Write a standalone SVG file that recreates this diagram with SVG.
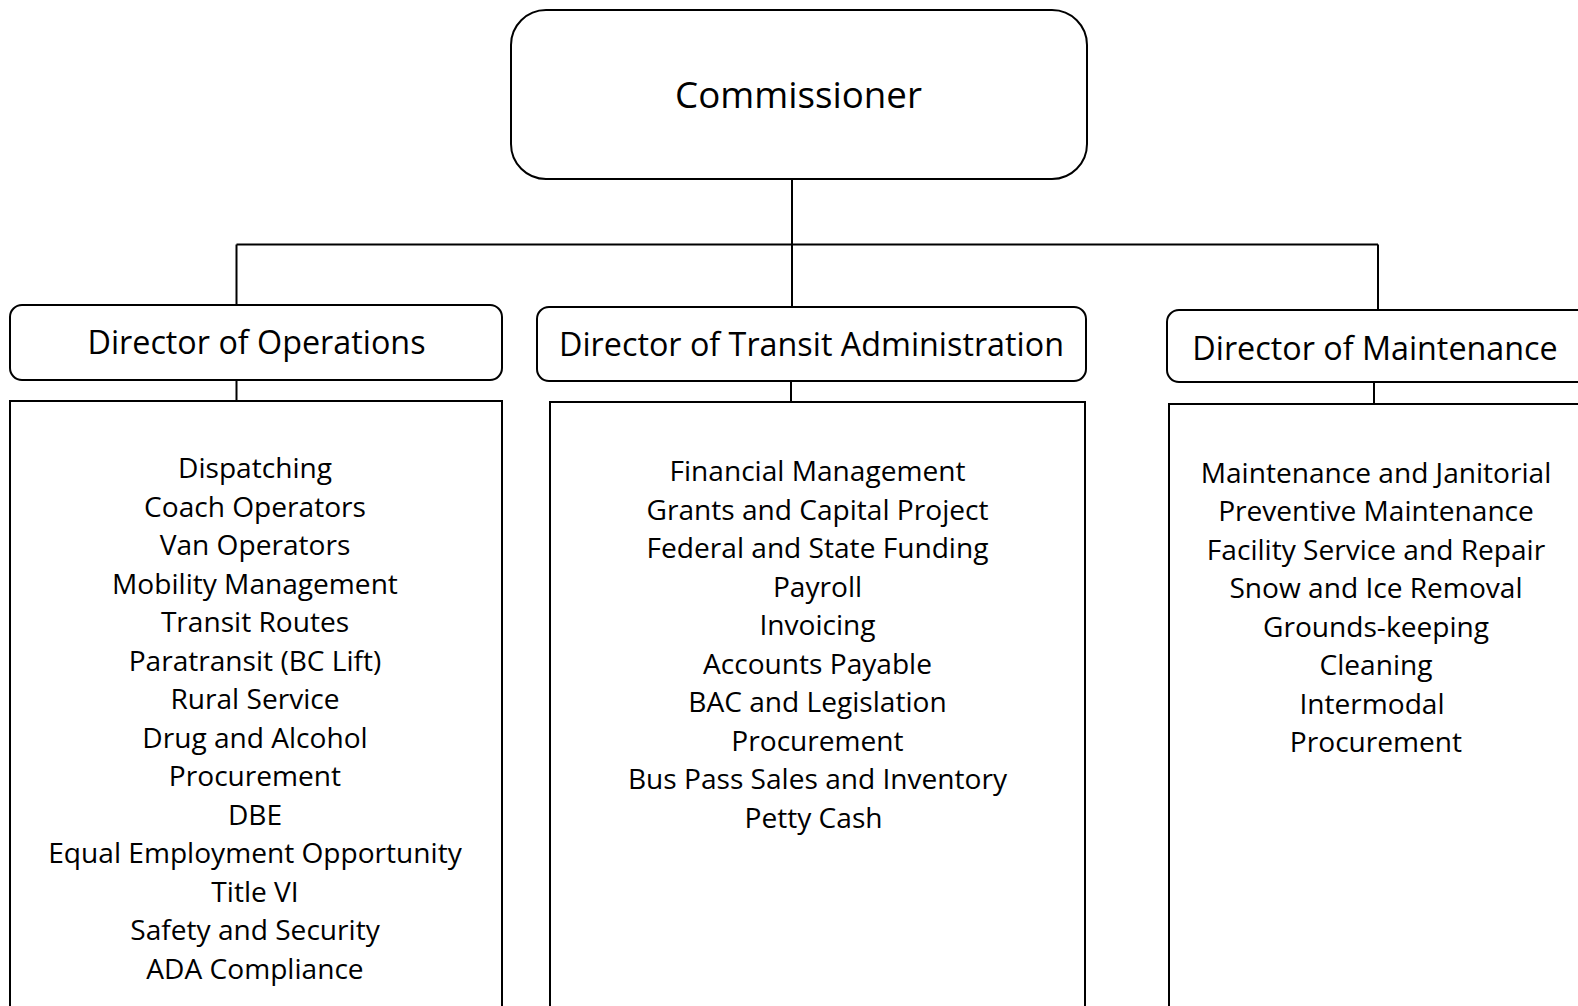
<svg xmlns="http://www.w3.org/2000/svg" width="1578" height="1006" viewBox="0 0 1578 1006">
<style>
.box{fill:#fff;stroke:#000;stroke-width:2}
.ln{fill:none;stroke:#000;stroke-width:2}
text{font-family:"Open Sans","Noto Sans",sans-serif;fill:#000;text-anchor:middle}
.t0{font-size:36.7px}
.t1{font-size:32.3px}
.t2{font-size:28.1px}
</style>
<rect width="1578" height="1006" fill="#fff"/>
<g id="connectors">
<path class="ln" d="M792 179V244.5M236.5 244.5H1378M236.5 244.5V305M792 244.5V307M1378 244.5V310"/>
<path class="ln" d="M236.5 380V401M791 381V402M1374 382V404"/>
</g>
<g id="commissioner">
<rect class="box" x="511" y="10" width="576" height="169" rx="35"/>
<text class="t0" x="798.5" y="107.5">Commissioner</text>
</g>
<g id="dir-operations">
<rect class="box" x="10" y="305" width="492" height="75" rx="12"/>
<text class="t1" x="256.5" y="353.5">Director of Operations</text>
</g>
<g id="dir-transit">
<rect class="box" x="537" y="307" width="549" height="74" rx="12"/>
<text class="t1" x="811.5" y="355.5">Director of Transit Administration</text>
</g>
<g id="dir-maintenance">
<rect class="box" x="1167" y="310" width="430" height="72" rx="12"/>
<text class="t1" x="1375" y="359.5">Director of Maintenance</text>
</g>
<g id="ops-duties">
<rect class="box" x="10" y="401" width="492" height="620"/>
<text class="t2" x="255" y="478">Dispatching</text>
<text class="t2" x="255" y="516.5">Coach Operators</text>
<text class="t2" x="255" y="555">Van Operators</text>
<text class="t2" x="255" y="593.5">Mobility Management</text>
<text class="t2" x="255" y="632">Transit Routes</text>
<text class="t2" x="255" y="670.5">Paratransit (BC Lift)</text>
<text class="t2" x="255" y="709">Rural Service</text>
<text class="t2" x="255" y="747.5">Drug and Alcohol</text>
<text class="t2" x="255" y="786">Procurement</text>
<text class="t2" x="255" y="824.5">DBE</text>
<text class="t2" x="255" y="863">Equal Employment Opportunity</text>
<text class="t2" x="255" y="901.5">Title VI</text>
<text class="t2" x="255" y="940">Safety and Security</text>
<text class="t2" x="255" y="978.5">ADA Compliance</text>
</g>
<g id="admin-duties">
<rect class="box" x="550" y="402" width="535" height="620"/>
<text class="t2" x="817.5" y="481">Financial Management</text>
<text class="t2" x="817.5" y="519.5">Grants and Capital Project</text>
<text class="t2" x="817.5" y="558">Federal and State Funding</text>
<text class="t2" x="817.5" y="596.5">Payroll</text>
<text class="t2" x="817.5" y="635">Invoicing</text>
<text class="t2" x="817.5" y="673.5">Accounts Payable</text>
<text class="t2" x="817.5" y="712">BAC and Legislation</text>
<text class="t2" x="817.5" y="750.5">Procurement</text>
<text class="t2" x="817.5" y="789">Bus Pass Sales and Inventory</text>
<text class="t2" x="813.5" y="827.5">Petty Cash</text>
</g>
<g id="maint-duties">
<rect class="box" x="1169" y="404" width="430" height="620"/>
<text class="t2" x="1376" y="482.5">Maintenance and Janitorial</text>
<text class="t2" x="1376" y="521">Preventive Maintenance</text>
<text class="t2" x="1376" y="559.5">Facility Service and Repair</text>
<text class="t2" x="1376" y="598">Snow and Ice Removal</text>
<text class="t2" x="1376" y="636.5">Grounds-keeping</text>
<text class="t2" x="1376" y="675">Cleaning</text>
<text class="t2" x="1372" y="713.5">Intermodal</text>
<text class="t2" x="1376" y="752">Procurement</text>
</g>
</svg>
